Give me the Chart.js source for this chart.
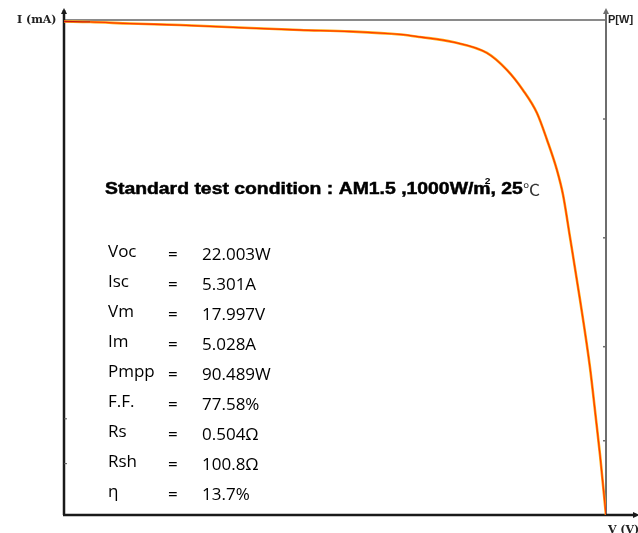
<!DOCTYPE html>
<html>
<head>
<meta charset="utf-8">
<script src="https://cdn.jsdelivr.net/npm/chart.js@4"></script>
<style>
  body { margin: 0; background: #fff; }
  #wrap { width: 638px; height: 533px; }
</style>
</head>
<body>
<div id="wrap"><canvas id="ivChart" width="638" height="533"></canvas></div>
<script>
// I-V curve (V in volts, I in amps)
const voltage = [0, 1.06, 2.68, 4.71, 7.55, 9.58, 11.61, 13.64, 14.45, 15.79, 17.17, 17.98, 18.63, 19.20, 19.61, 20.01, 20.26, 20.54, 20.95, 21.35, 21.60, 21.76, 22.003];
const current = [5.285, 5.28, 5.263, 5.247, 5.215, 5.194, 5.178, 5.146, 5.119, 5.065, 4.948, 4.766, 4.551, 4.305, 4.016, 3.695, 3.427, 2.977, 2.302, 1.585, 1.017, 0.643, 0];

// tick marks (no labels) on the left and right axes
const currentTicks = [0.55, 1.03];
const powerTicks = [15, 34, 56, 80];

const paramNames = ["Voc", "Isc", "Vm", "Im", "Pmpp", "F.F.", "Rs", "Rsh", "η"];
const paramValues = ["22.003W", "5.301A", "17.997V", "5.028A", "90.489W", "77.58%", "0.504Ω", "100.8Ω", "13.7%"];

const titleMain = "Standard test condition : AM1.5 ,1000W/m";
const titleTail = ", 25";

const points = voltage.map((v, i) => ({ x: v, y: current[i] }));

function arrowUp(ctx, x, y) {
  ctx.beginPath();
  ctx.moveTo(x, y);
  ctx.lineTo(x - 3, y + 6);
  ctx.lineTo(x + 3, y + 6);
  ctx.closePath();
  ctx.fill();
}

const decorations = {
  id: "decorations",
  beforeDatasetsDraw(chart) {
    const { ctx, chartArea: a } = chart;
    const yI = chart.scales.y;
    const yP = chart.scales.p;
    ctx.save();

    // top frame line
    ctx.strokeStyle = "#8a8a8a";
    ctx.lineWidth = 2;
    ctx.beginPath();
    ctx.moveTo(a.left, a.top);
    ctx.lineTo(a.right, a.top);
    ctx.stroke();

    // right (power) axis
    ctx.strokeStyle = "#6e6e6e";
    ctx.beginPath();
    ctx.moveTo(a.right, a.top - 9);
    ctx.lineTo(a.right, a.bottom);
    ctx.stroke();
    ctx.fillStyle = "#6e6e6e";
    arrowUp(ctx, a.right, a.top - 12);
    powerTicks.forEach(t => {
      const py = yP.getPixelForValue(t);
      ctx.lineWidth = 1.5;
      ctx.beginPath();
      ctx.moveTo(a.right - 3, py);
      ctx.lineTo(a.right, py);
      ctx.stroke();
    });

    // left (current) axis
    ctx.strokeStyle = "#1a1a1a";
    ctx.fillStyle = "#1a1a1a";
    ctx.lineWidth = 2.5;
    ctx.beginPath();
    ctx.moveTo(a.left, a.top - 10);
    ctx.lineTo(a.left, a.bottom);
    ctx.stroke();
    arrowUp(ctx, a.left, a.top - 12);
    currentTicks.forEach(t => {
      const py = yI.getPixelForValue(t);
      ctx.lineWidth = 1;
      ctx.strokeStyle = "#555";
      ctx.beginPath();
      ctx.moveTo(a.left, py);
      ctx.lineTo(a.left + 3, py);
      ctx.stroke();
    });

    // bottom (voltage) axis
    ctx.strokeStyle = "#1a1a1a";
    ctx.lineWidth = 2.5;
    ctx.beginPath();
    ctx.moveTo(a.left - 1, a.bottom);
    ctx.lineTo(a.right + 28, a.bottom);
    ctx.stroke();
    ctx.beginPath();
    ctx.moveTo(a.right + 34, a.bottom);
    ctx.lineTo(a.right + 27, a.bottom - 3);
    ctx.lineTo(a.right + 27, a.bottom + 3);
    ctx.closePath();
    ctx.fill();

    // axis names
    ctx.fillStyle = "#222";
    ctx.font = "bold 11px 'DejaVu Serif'";
    ctx.textBaseline = "middle";
    ctx.textAlign = "left";
    ctx.fillText("I (mA)", 17, a.top);
    ctx.font = "bold 11px 'Liberation Sans'";
    ctx.fillText("P[W]", a.right + 2, a.top);
    ctx.font = "bold 11px 'DejaVu Serif'";
    ctx.fillText("V (V)", a.right + 2, a.bottom + 15);

    // test condition line, stretched to the width seen in the picture
    ctx.fillStyle = "#000";
    ctx.textBaseline = "alphabetic";
    const boldFont = "bold 17px 'Liberation Sans'";
    const thinFont = "15px 'Noto Sans CJK SC'";
    ctx.font = boldFont;
    const w1 = ctx.measureText(titleMain).width;
    const w2 = ctx.measureText(titleTail).width;
    ctx.font = thinFont;
    const w3 = ctx.measureText("℃").width;
    const k = 435 / (w1 + w2 + w3);
    ctx.save();
    ctx.translate(105, 194);
    ctx.scale(k, 1);
    ctx.font = boldFont;
    ctx.fillText(titleMain, 0, 0);
    ctx.lineWidth = 0.5;
    ctx.strokeStyle = "#000";
    ctx.strokeText(titleMain, 0, 0);
    ctx.font = "bold 9px 'Liberation Sans'";
    ctx.fillText("2", w1 - 5, -10);
    ctx.font = boldFont;
    ctx.fillText(titleTail, w1, 0);
    ctx.strokeText(titleTail, w1, 0);
    ctx.font = thinFont;
    ctx.fillStyle = "#333";
    ctx.fillText("℃", w1 + w2, 1);
    ctx.restore();

    // parameter table
    ctx.fillStyle = "#000";
    ctx.font = "17px 'Open Sans'";
    paramNames.forEach((n, i) => {
      const py = 257 + i * 30;
      ctx.fillText(n, 108, py);
      ctx.fillText("=", 168, py + 3);
      ctx.fillText(paramValues[i], 202, py + 3);
    });
    ctx.restore();
  }
};

const lineStyle = {
  pointRadius: 0,
  cubicInterpolationMode: "monotone",
  fill: false
};

new Chart(document.getElementById("ivChart"), {
  type: "line",
  data: {
    datasets: [
      Object.assign({
        data: points,
        borderColor: "#ff3c00",
        borderWidth: 1.3,
        segment: { borderColor: c => c.p0.parsed.x < 1 ? "#c81010" : undefined }
      }, lineStyle),
      Object.assign({
        data: points,
        borderColor: "#ffaa10",
        borderWidth: 2.6
      }, lineStyle)
    ]
  },
  options: {
    responsive: false,
    animation: false,
    layout: { padding: { left: 64, right: 32, top: 20, bottom: 18 } },
    plugins: { legend: { display: false }, tooltip: { enabled: false } },
    scales: {
      x: { type: "linear", min: 0, max: 22.003, display: false },
      y: { type: "linear", min: 0, max: 5.301, display: false },
      p: { type: "linear", position: "right", min: 0, max: 100, display: false }
    }
  },
  plugins: [decorations]
});
</script>
</body>
</html>
